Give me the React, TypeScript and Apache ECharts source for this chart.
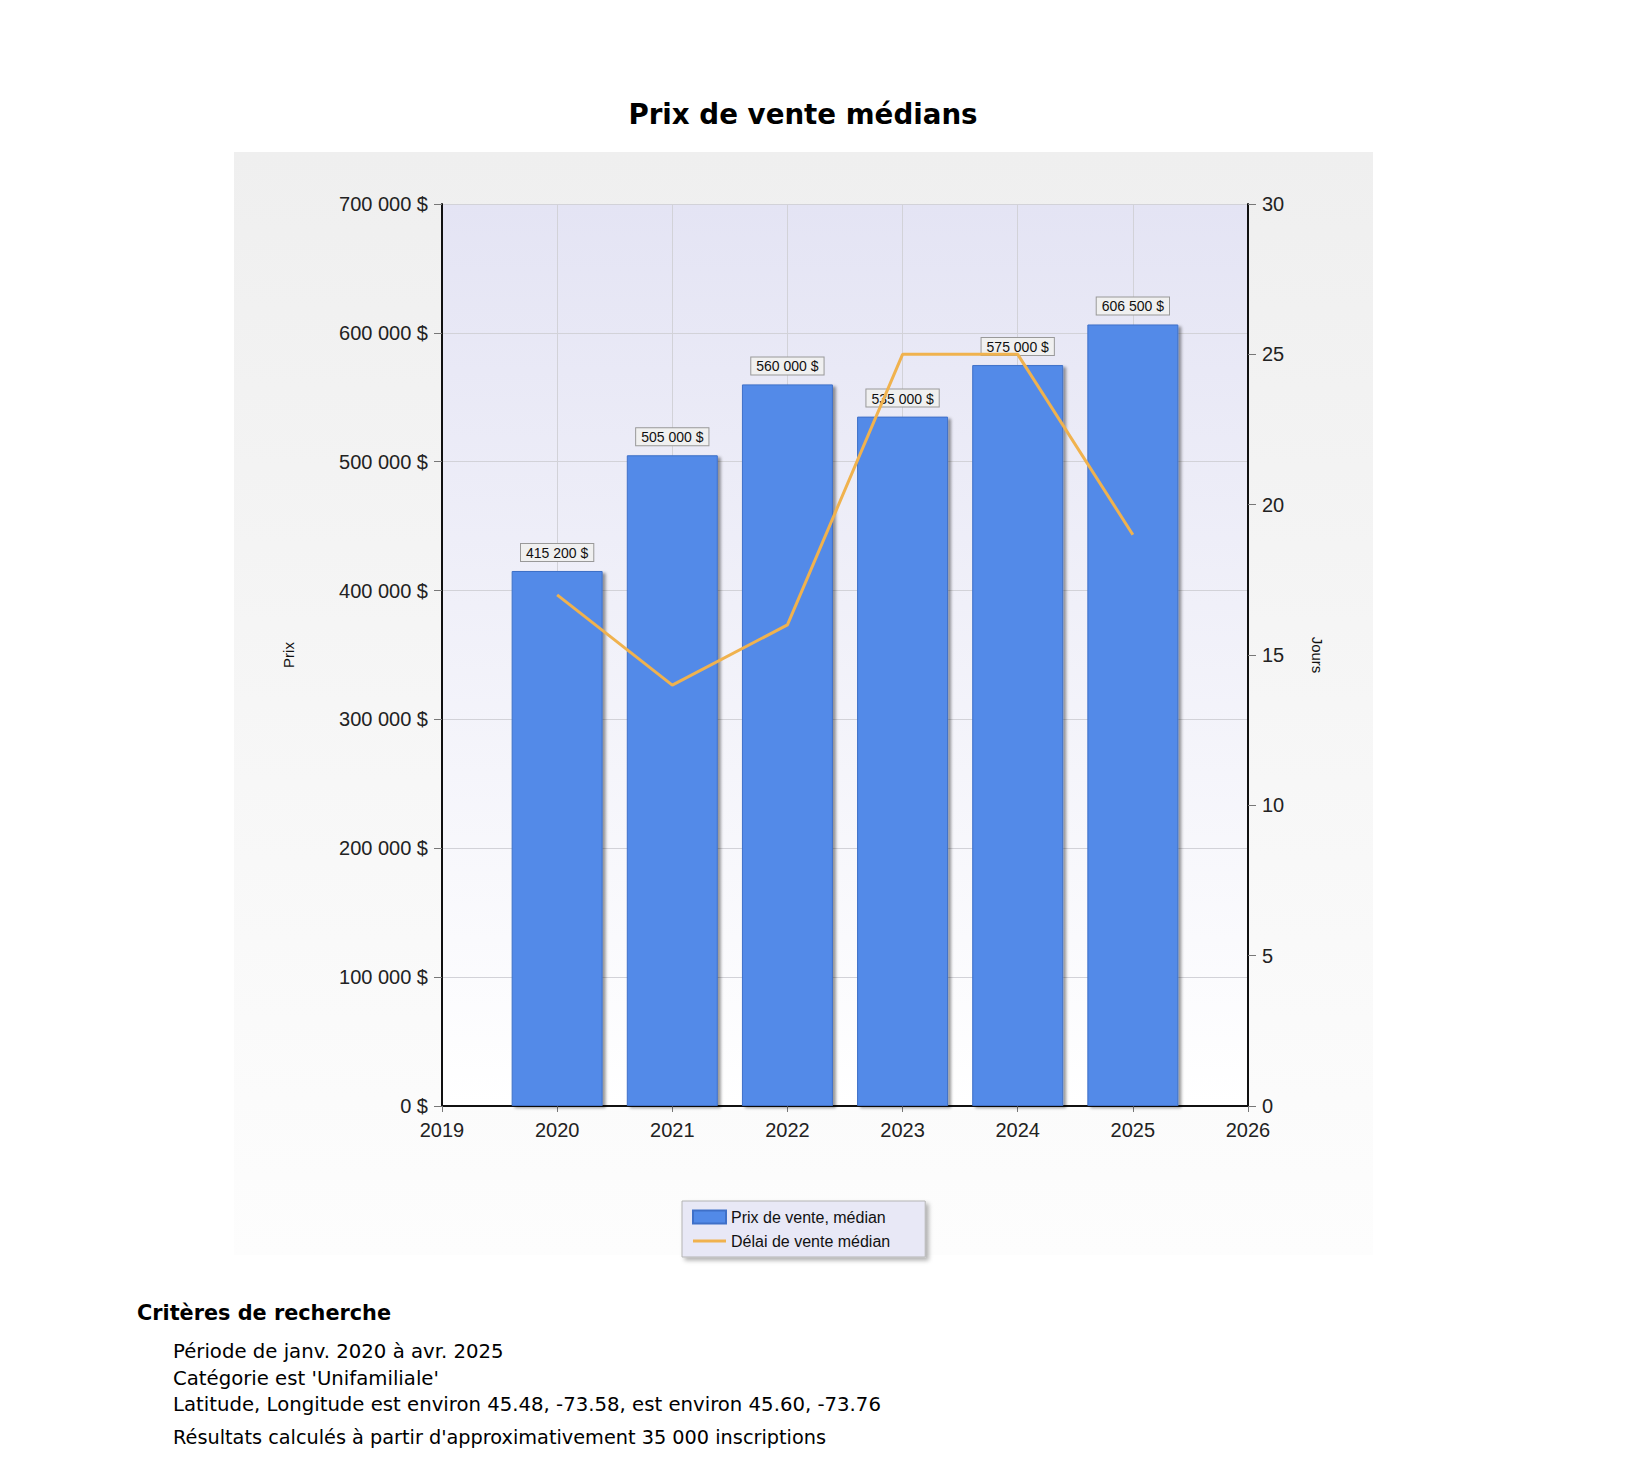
import React, { useEffect, useRef } from 'react';
import * as echarts from 'echarts';

const years = [2020, 2021, 2022, 2023, 2024, 2025];
const medianPrices = [415200, 505000, 560000, 535000, 575000, 606500];
const medianDays = [17, 14, 16, 25, 25, 19];

const criteriaLines = [
  'Période de janv. 2020 à avr. 2025',
  "Catégorie est 'Unifamiliale'",
  'Latitude, Longitude est environ 45.48, -73.58, est environ 45.60, -73.76',
];
const resultsLine = "Résultats calculés à partir d'approximativement 35 000 inscriptions";

const fmtMoney = (v: number) => String(v).replace(/\B(?=(\d{3})+(?!\d))/g, ' ') + ' $';

const AXIS_FONT = "'Liberation Sans', Arial, sans-serif";
const PAGE_FONT = "'DejaVu Sans', Verdana, sans-serif";

const PriceChart: React.FC = () => {
  const chartRef = useRef<HTMLDivElement>(null);

  useEffect(() => {
    if (!chartRef.current) return;
    const chart = echarts.init(chartRef.current, undefined, { renderer: 'svg' });

    const option: echarts.EChartsOption = {
      animation: false,
      title: {
        text: 'Prix de vente médians',
        left: 790,
        top: 87,
        textAlign: 'center',
        textStyle: { fontFamily: PAGE_FONT, fontSize: 27.7, fontWeight: 'bold', color: '#000' },
      },
      graphic: [
        {
          type: 'rect',
          z: -10,
          shape: { x: 226, y: 144, width: 1139, height: 1103 },
          style: {
            fill: new echarts.graphic.LinearGradient(0, 0, 0, 1, [
              { offset: 0, color: '#efefef' },
              { offset: 1, color: '#fdfdfd' },
            ]),
          },
        },
      ],
      grid: {
        left: 434,
        top: 196,
        width: 806,
        height: 902,
        show: true,
        borderWidth: 0,
        backgroundColor: new echarts.graphic.LinearGradient(0, 0, 0, 1, [
          { offset: 0, color: '#e4e4f4' },
          { offset: 1, color: '#ffffff' },
        ]) as any,
      },
      legend: {
        orient: 'vertical',
        left: 674,
        top: 1193,
        padding: [8, 35, 8, 10],
        itemGap: 8,
        itemWidth: 33,
        itemHeight: 13,
        symbolKeepAspect: true,
        backgroundColor: '#e8e8f6',
        borderColor: '#b4b4b4',
        borderWidth: 1,
        shadowColor: 'rgba(0,0,0,0.3)',
        shadowBlur: 4,
        shadowOffsetX: 3,
        shadowOffsetY: 3,
        textStyle: { fontFamily: AXIS_FONT, fontSize: 16, color: '#111' },
        data: [
          { name: 'Prix de vente, médian', icon: 'rect' },
          { name: 'Délai de vente médian', icon: 'path://M0,0 L33,0 L33,3 L0,3 Z' },
        ],
      },
      xAxis: {
        type: 'value',
        min: 2019,
        max: 2026,
        interval: 1,
        axisLine: { show: true, lineStyle: { color: '#111', width: 2 } },
        axisTick: { show: true, length: 6, lineStyle: { color: '#777' } },
        axisLabel: {
          margin: 14,
          fontFamily: AXIS_FONT,
          fontSize: 20,
          color: '#222',
          formatter: (v: number) => String(v),
        },
        splitLine: { show: true, lineStyle: { color: '#d2d2d8', width: 1 } },
      },
      yAxis: [
        {
          type: 'value',
          min: 0,
          max: 700000,
          interval: 100000,
          name: 'Prix',
          nameLocation: 'middle',
          nameGap: 146,
          nameTextStyle: { fontFamily: AXIS_FONT, fontSize: 15, color: '#111' },
          axisLine: { show: true, lineStyle: { color: '#111', width: 2 } },
          axisTick: { show: true, length: 8, lineStyle: { color: '#777' } },
          axisLabel: {
            margin: 14,
            fontFamily: AXIS_FONT,
            fontSize: 20,
            color: '#222',
            formatter: (v: number) => fmtMoney(v),
          },
          splitLine: { show: true, lineStyle: { color: '#d2d2d8', width: 1 } },
        },
        {
          type: 'value',
          min: 0,
          max: 30,
          interval: 5,
          position: 'right',
          name: 'Jours',
          nameLocation: 'middle',
          nameGap: 62,
          nameRotate: -90,
          nameTextStyle: { fontFamily: AXIS_FONT, fontSize: 15, color: '#111' },
          axisLine: { show: true, lineStyle: { color: '#111', width: 2 } },
          axisTick: { show: true, length: 8, lineStyle: { color: '#777' } },
          axisLabel: { margin: 14, fontFamily: AXIS_FONT, fontSize: 20, color: '#222' },
          splitLine: { show: false },
        },
      ],
      series: [
        {
          name: 'Prix de vente, médian',
          type: 'bar',
          yAxisIndex: 0,
          barWidth: 91,
          data: years.map((y, i) => [y, medianPrices[i]]),
          itemStyle: {
            color: '#528ae8',
            borderColor: '#3f70c8',
            borderWidth: 1,
            shadowColor: 'rgba(0,0,0,0.4)',
            shadowBlur: 3,
            shadowOffsetX: 3,
            shadowOffsetY: 2,
          },
          label: {
            show: true,
            position: 'top',
            distance: 10,
            fontFamily: AXIS_FONT,
            fontSize: 14,
            color: '#111',
            backgroundColor: '#f0f0f0',
            borderColor: '#999',
            borderWidth: 1,
            padding: [2, 5, 1, 5],
            formatter: (p: any) => fmtMoney(p.value[1]),
          },
        },
        {
          name: 'Délai de vente médian',
          type: 'line',
          yAxisIndex: 1,
          symbol: 'none',
          data: years.map((y, i) => [y, medianDays[i]]),
          lineStyle: { color: '#f0b24e', width: 3 },
          itemStyle: { color: '#f0b24e' },
          z: 5,
        },
      ],
    };

    chart.setOption(option);
    return () => chart.dispose();
  }, []);

  return (
    <div
      ref={chartRef}
      style={{ position: 'absolute', left: 0, top: 0, width: '1610px', height: '1270px' }}
    />
  );
};

const App: React.FC = () => {
  return (
    <div style={{ position: 'relative', width: '1610px', height: '1446px', fontFamily: PAGE_FONT }}>
      <PriceChart />
      <div
        style={{
          position: 'absolute',
          left: '129px',
          top: '1292px',
          fontSize: '20.8px',
          fontWeight: 'bold',
          lineHeight: '26px',
          color: '#000',
        }}
      >
        Critères de recherche
      </div>
      <div
        style={{
          position: 'absolute',
          left: '165px',
          top: '1331px',
          fontSize: '19.7px',
          lineHeight: '26.5px',
          color: '#000',
        }}
      >
        {criteriaLines.map((t) => (
          <div key={t}>{t}</div>
        ))}
        <div style={{ marginTop: '6px', fontSize: '19.3px' }}>{resultsLine}</div>
      </div>
    </div>
  );
};

export default App;
